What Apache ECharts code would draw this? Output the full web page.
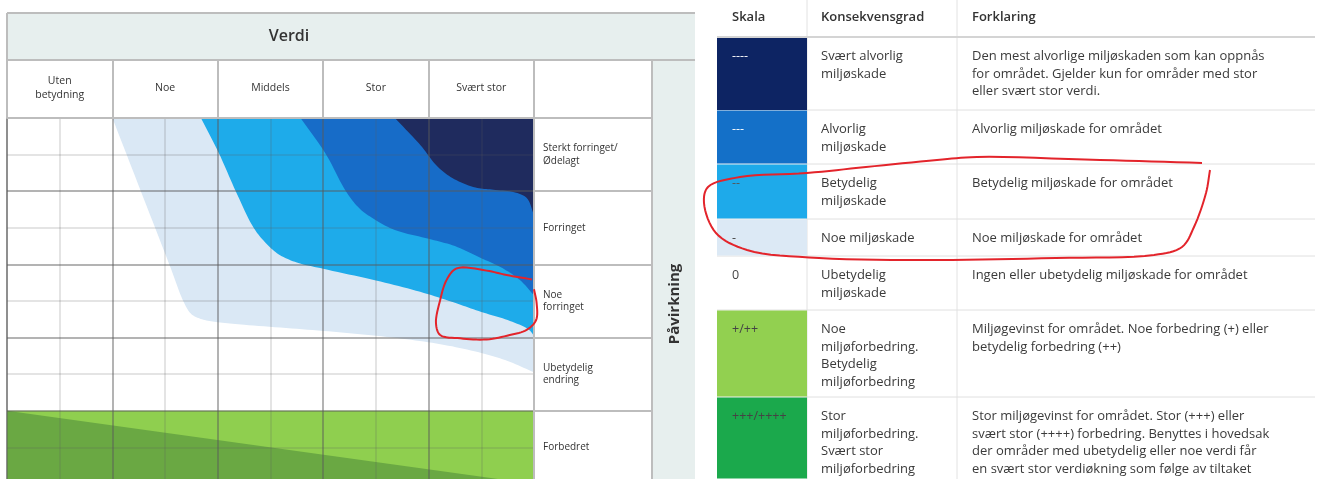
<!DOCTYPE html>
<html><head><meta charset="utf-8">
<script src="https://cdn.jsdelivr.net/npm/echarts@6/dist/echarts.min.js"></script>
<style>html,body{margin:0;padding:0;background:#fff}#c{width:1320px;height:479px}</style>
</head><body><div id="c"></div>
<script>
// ---------- data ----------
const verdiCategories = ['Uten\nbetydning', 'Noe', 'Middels', 'Stor', 'Svært stor'];
const pavirkningCategories = ['Sterkt forringet/\nØdelagt', 'Forringet', 'Noe\nforringet', 'Ubetydelig\nendring', 'Forbedret'];

// fan boundaries: [column units 0-10, row units 0-10 from top]
const noeMiljoskadeEdge = [[2.0,0],[2.54,2],[3.08,4],[3.36,5.05],[3.5,5.36],[3.7,5.5],[4.0,5.58],[4.5,5.65],[5.5,5.76],[6.5,5.88],[7.5,6.03],[8.3,6.2],[9.0,6.42],[9.5,6.64],[10,6.95]];
const betydeligEdge = [[3.68,0],[4.02,0.96],[4.34,2],[4.68,3],[4.9,3.4],[5.15,3.72],[5.5,3.95],[6.0,4.12],[7.0,4.44],[7.84,4.75],[8.5,5.05],[9.0,5.3],[9.5,5.52],[9.9,5.78],[10,5.95]];
const alvorligEdge = [[5.57,0],[6.04,0.96],[6.43,2],[6.68,2.46],[6.94,2.74],[7.36,3.06],[8.0,3.3],[8.5,3.5],[9.0,3.83],[9.4,4.1],[9.75,4.45],[10,4.85]];
const svaertAlvorligEdge = [[7.36,0],[7.85,0.75],[8.15,1.3],[8.45,1.64],[8.89,1.9],[9.23,1.96],[9.66,2.04],[9.87,2.2],[10,2.66]];
const forbedringArea = [[0,8],[10,8],[10,10],[0,10]];
const storForbedringArea = [[0,8],[10,10],[0,10]];
const annotationLoop = [[9.96,4.41],[9.48,4.29],[9.10,4.17],[8.53,4.11],[8.34,4.43],[8.22,4.97],[8.14,5.61],[8.22,5.93],[8.60,6.02],[9.10,6.05],[9.54,5.93],[9.86,5.79],[10.04,5.52],[10.05,5.06],[10.0,4.68]];

const tableHeaders = ['Skala', 'Konsekvensgrad', 'Forklaring'];
const tableSkala = ['----', '---', '--', '-', '0', '+/++', '+++/++++'];
const tableGrad = ['Svært alvorlig\nmiljøskade', 'Alvorlig\nmiljøskade', 'Betydelig\nmiljøskade', 'Noe miljøskade', 'Ubetydelig\nmiljøskade', 'Noe\nmiljøforbedring.\nBetydelig\nmiljøforbedring', 'Stor\nmiljøforbedring.\nSvært stor\nmiljøforbedring'];
const tableForklaring = [
  'Den mest alvorlige miljøskaden som kan oppnås\nfor området. Gjelder kun for områder med stor\neller svært stor verdi.',
  'Alvorlig miljøskade for området',
  'Betydelig miljøskade for området',
  'Noe miljøskade for området',
  'Ingen eller ubetydelig miljøskade for området',
  'Miljøgevinst for området. Noe forbedring (+) eller\nbetydelig forbedring (++)',
  'Stor miljøgevinst for området. Stor (+++) eller\nsvært stor (++++) forbedring. Benyttes i hovedsak\nder områder med ubetydelig eller noe verdi får\nen svært stor verdiøkning som følge av tiltaket'
];
const tableAnnotation = [[1202,163],[1100,160],[977,157],[937,160],[866,167],[807,173],[740,177],[708,187],[704,203],[716,233],[747,250],[819,258],[937,260],[1056,258],[1154,255],[1182,247],[1194,227],[1206,193],[1210,170]];

// ---------- styles / layout ----------
const swatchColors = ['#0d2463', '#1470c8', '#1eaaea', '#dce9f5', null, '#92d050', '#1ba94c'];
const skalaTextColors = ['#fff', '#fff', '#555', '#444', '#444', '#444', '#444'];
const rowTops = [37, 110, 164, 219, 256, 310, 397, 479];
const colX = [717, 807, 957, 1315];
const FONT = '"Open Sans", "Noto Sans", sans-serif';

function crc(pts, seg) {
  const n = pts.length, out = [];
  const P = [[2*pts[0][0]-pts[1][0], 2*pts[0][1]-pts[1][1]], ...pts,
             [2*pts[n-1][0]-pts[n-2][0], 2*pts[n-1][1]-pts[n-2][1]]];
  const d = (a,b) => Math.max(Math.pow(Math.hypot(b[0]-a[0], b[1]-a[1]), 0.5), 1e-4);
  const lerp = (a,b,ta,tb,t) => [ (tb-t)/(tb-ta)*a[0] + (t-ta)/(tb-ta)*b[0], (tb-t)/(tb-ta)*a[1] + (t-ta)/(tb-ta)*b[1] ];
  for (let i = 1; i < P.length - 2; i++) {
    const p0=P[i-1], p1=P[i], p2=P[i+1], p3=P[i+2];
    const t0=0, t1=t0+d(p0,p1), t2=t1+d(p1,p2), t3=t2+d(p2,p3);
    for (let k = 0; k < seg; k++) {
      const t = t1 + (t2-t1)*k/seg;
      const A1=lerp(p0,p1,t0,t1,t), A2=lerp(p1,p2,t1,t2,t), A3=lerp(p2,p3,t2,t3,t);
      const B1=lerp(A1,A2,t0,t2,t), B2=lerp(A2,A3,t1,t3,t);
      out.push(lerp(B1,B2,t1,t2,t));
    }
  }
  out.push(pts[n-1]);
  return out;
}

function fanSeries(edge, color) {
  return {
    type: 'custom', coordinateSystem: 'cartesian2d', xAxisIndex: 0, yAxisIndex: 0,
    data: [[10, 0]], silent: true, z: 2,
    renderItem(params, api) {
      const px = crc(edge.map(p => api.coord(p)), 10);
      px.push(api.coord([10, 0]));
      return { type: 'polygon', shape: { points: px }, style: { fill: color } };
    }
  };
}
function areaSeries(area, color) {
  return {
    type: 'custom', coordinateSystem: 'cartesian2d', xAxisIndex: 0, yAxisIndex: 0,
    data: [[0, 8]], silent: true, z: 2,
    renderItem(params, api) {
      return { type: 'polygon', shape: { points: area.map(p => api.coord(p)) }, style: { fill: color } };
    }
  };
}

const majorLine = { color: 'rgba(90,90,90,0.46)', width: 2 };
const minorLine = { color: 'rgba(90,90,90,0.22)', width: 1.5 };
const bandFill = '#e7efee';
const frame = '#bdbdbd';

const graphic = [];
graphic.push({ type: 'rect', shape: { x: 7, y: 13, width: 688, height: 47 }, style: { fill: bandFill }, z: 0 });
graphic.push({ type: 'rect', shape: { x: 652, y: 60, width: 43, height: 430 }, style: { fill: bandFill }, z: 0 });
graphic.push({ type: 'line', shape: { x1: 7, y1: 13, x2: 695, y2: 13 }, style: { stroke: frame, lineWidth: 2 }, z: 1 });
graphic.push({ type: 'line', shape: { x1: 7, y1: 60, x2: 695, y2: 60 }, style: { stroke: frame, lineWidth: 2 }, z: 1 });
graphic.push({ type: 'line', shape: { x1: 7, y1: 13, x2: 7, y2: 479 }, style: { stroke: frame, lineWidth: 2 }, z: 1 });
graphic.push({ type: 'line', shape: { x1: 652, y1: 60, x2: 652, y2: 479 }, style: { stroke: frame, lineWidth: 2 }, z: 1 });
graphic.push({ type: 'text', x: 289, y: 36, style: { text: 'Verdi', fontSize: 16, fontWeight: 600, fontFamily: FONT, fill: '#333', align: 'center', verticalAlign: 'middle' }, z: 3 });
graphic.push({ type: 'text', x: 675, y: 304, rotation: Math.PI / 2, style: { text: 'Påvirkning', fontSize: 15, fontWeight: 'bold', fontFamily: FONT, fill: '#333', align: 'center', verticalAlign: 'middle' }, z: 3 });

// table
graphic.push({ type: 'line', shape: { x1: colX[1], y1: 0, x2: colX[1], y2: 479 }, style: { stroke: '#e2e2e2', lineWidth: 1 }, z: 1 });
graphic.push({ type: 'line', shape: { x1: colX[2], y1: 0, x2: colX[2], y2: 479 }, style: { stroke: '#e2e2e2', lineWidth: 1 }, z: 1 });
for (let i = 0; i < rowTops.length - 1; i++) {
  graphic.push({ type: 'line', shape: { x1: colX[0], y1: rowTops[i], x2: colX[3], y2: rowTops[i] },
    style: { stroke: i === 0 ? '#d4d4d4' : '#e0e0e0', lineWidth: i === 0 ? 2 : 1 }, z: 1 });
  if (swatchColors[i]) {
    graphic.push({ type: 'rect', shape: { x: colX[0], y: rowTops[i] + (i === 0 ? 1 : 0.5), width: colX[1] - colX[0], height: rowTops[i+1] - rowTops[i] - 1 },
      style: { fill: swatchColors[i] }, z: 2 });
  }
  const ty = rowTops[i] + 11;
  graphic.push({ type: 'text', x: colX[0] + 15, y: ty, style: { text: tableSkala[i], fontSize: 12.5, fontFamily: FONT, fill: skalaTextColors[i], verticalAlign: 'top', lineHeight: 17.5 }, z: 3 });
  graphic.push({ type: 'text', x: colX[1] + 14, y: ty, style: { text: tableGrad[i], fontSize: 13, fontFamily: FONT, fill: '#3a3a3a', verticalAlign: 'top', lineHeight: 17.5 }, z: 3 });
  graphic.push({ type: 'text', x: colX[2] + 15, y: ty, style: { text: tableForklaring[i], fontSize: 13, fontFamily: FONT, fill: '#3a3a3a', verticalAlign: 'top', lineHeight: 17.5 }, z: 3 });
}
const headX = [colX[0] + 15, colX[1] + 14, colX[2] + 15];
tableHeaders.forEach((h, i) => graphic.push({ type: 'text', x: headX[i], y: 17, style: { text: h, fontSize: 13, fontWeight: 600, fontFamily: FONT, fill: '#333', verticalAlign: 'middle' }, z: 3 }));
graphic.push({ type: 'polyline', shape: { points: crc(tableAnnotation, 8) }, style: { stroke: '#e3242b', lineWidth: 2, fill: null }, z: 10 });

const option = {
  animation: false,
  backgroundColor: '#fff',
  textStyle: { fontFamily: FONT },
  grid: { left: 7, top: 118, width: 527, height: 366, containLabel: false, outerBoundsMode: 'none' },
  xAxis: [
    { type: 'value', min: 0, max: 10, interval: 2, z: 5,
      axisLine: { show: false }, axisTick: { show: false }, axisLabel: { show: false },
      splitLine: { show: true, lineStyle: majorLine },
      minorTick: { show: false, splitNumber: 2 }, minorSplitLine: { show: true, lineStyle: minorLine } },
    { type: 'category', position: 'top', data: verdiCategories, boundaryGap: true, z: 5,
      axisLine: { show: true, lineStyle: { color: frame, width: 2 } },
      axisTick: { show: true, length: 58, inside: false, lineStyle: { color: frame, width: 2 } },
      axisLabel: { margin: 30, verticalAlign: 'middle', fontSize: 10.5, lineHeight: 14, color: '#333', fontFamily: FONT } }
  ],
  yAxis: [
    { type: 'value', min: 0, max: 10, interval: 2, inverse: true, z: 5,
      axisLine: { show: false }, axisTick: { show: false }, axisLabel: { show: false },
      splitLine: { show: true, lineStyle: majorLine },
      minorTick: { show: false, splitNumber: 2 }, minorSplitLine: { show: true, lineStyle: minorLine } },
    { type: 'category', position: 'right', data: pavirkningCategories, inverse: true, boundaryGap: true, z: 5,
      axisLine: { show: true, lineStyle: { color: frame, width: 2 } },
      axisTick: { show: true, length: 118, inside: false, lineStyle: { color: frame, width: 2 } },
      axisLabel: { margin: 9, align: 'left', fontSize: 10, lineHeight: 12.5, color: '#333', fontFamily: FONT,
        padding: [0, 0, 5, 0] } }
  ],
  graphic: graphic,
  series: [
    areaSeries(forbedringArea, '#8fcf4f'),
    areaSeries(storForbedringArea, '#6aa843'),
    fanSeries(noeMiljoskadeEdge, '#dae8f5'),
    fanSeries(betydeligEdge, '#1eabea'),
    fanSeries(alvorligEdge, '#176cc8'),
    fanSeries(svaertAlvorligEdge, '#1f2b5e'),
    { type: 'custom', coordinateSystem: 'cartesian2d', xAxisIndex: 0, yAxisIndex: 0,
      data: [[9, 5]], silent: true, z: 20, clip: false,
      renderItem(params, api) {
        return { type: 'polyline', shape: { points: crc(annotationLoop.map(p => api.coord(p)), 8) },
                 style: { stroke: '#e3242b', lineWidth: 2, fill: null } };
      } }
  ]
};
const chart = echarts.init(document.getElementById('c'), null, { renderer: 'canvas' });
chart.setOption(option);
</script>
</body></html>
